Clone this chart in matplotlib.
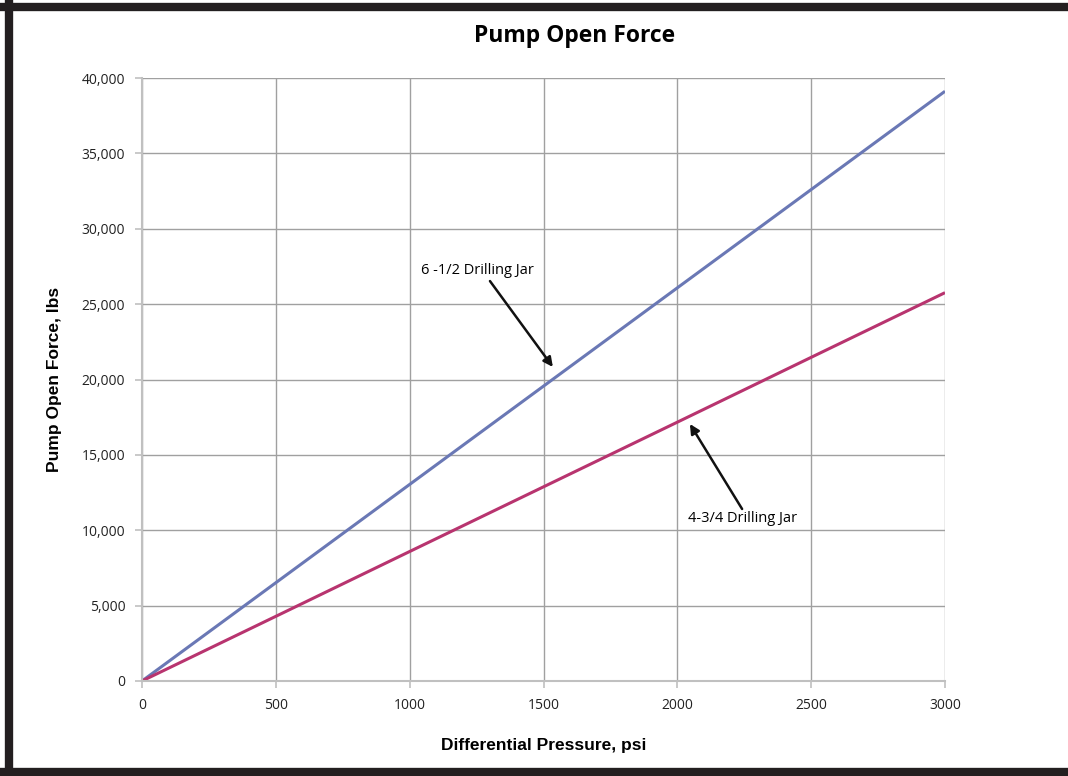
import numpy as np
import matplotlib.pyplot as plt
from matplotlib.lines import Line2D

# MARK: - Data
pressure_psi = [0, 500, 1000, 1500, 2000, 2500, 3000]
force_6_half = [0, 6520, 13040, 19560, 26080, 32600, 39120]
force_4_three_quarter = [0, 4290, 8590, 12880, 17170, 21470, 25760]

x_ticks = [0, 500, 1000, 1500, 2000, 2500, 3000]
y_ticks = [0, 5000, 10000, 15000, 20000, 25000, 30000, 35000, 40000]

# MARK: - Figure
fig = plt.figure(figsize=(10.68, 7.76), dpi=100)
ax = fig.add_axes([142 / 1068, 1 - 681 / 776, (945 - 142) / 1068, (681 - 78) / 776])

ax.plot(pressure_psi, force_6_half, color="#6a78b5", linewidth=2.2, solid_capstyle="butt")
ax.plot(pressure_psi, force_4_three_quarter, color="#b8346f", linewidth=2.2, solid_capstyle="butt")

ax.set_xlim(0, 3000)
ax.set_ylim(0, 40000)
ax.set_xticks(x_ticks)
ax.set_yticks(y_ticks)
ax.set_yticklabels([f"{v:,}" for v in y_ticks])
ax.grid(True, color="#a0a0a0", linewidth=1.0)
ax.set_axisbelow(True)
for side in ["top", "right"]:
    ax.spines[side].set_visible(False)
for side in ["left", "bottom"]:
    ax.spines[side].set_color("#c0c0c0")
    ax.spines[side].set_linewidth(1.5)
ax.tick_params(axis="both", length=5, width=1.2, color="#c0c0c0",
               labelsize=10, labelcolor="#222222", pad=7)
for lbl in ax.get_xticklabels() + ax.get_yticklabels():
    lbl.set_fontfamily("Open Sans")

ax.set_xlabel("Differential Pressure, psi", fontfamily="Liberation Sans",
              fontweight="bold", fontsize=12.5, labelpad=18)
ax.set_ylabel("Pump Open Force, lbs", fontfamily="Liberation Sans",
              fontweight="bold", fontsize=12.5, labelpad=14)

fig.text(575 / 1068, 1 - 36 / 776, "Pump Open Force", ha="center", va="center",
         fontfamily="Open Sans", fontweight="bold", fontsize=16.5)

# MARK: - Annotations
arrow_style = dict(arrowstyle="-|>", color="#111111", lw=1.8,
                   shrinkA=0, shrinkB=0, mutation_scale=14)
ax.text(1255, 27260, "6 -1/2 Drilling Jar", ha="center", va="center",
        fontfamily="Open Sans", fontsize=10.5)
ax.annotate("", xy=(1535, 20830), xytext=(1300, 26530), arrowprops=arrow_style)
ax.text(2242, 10750, "4-3/4 Drilling Jar", ha="center", va="center",
        fontfamily="Open Sans", fontsize=10.5)
ax.annotate("", xy=(2047, 17050), xytext=(2242, 11410), arrowprops=arrow_style)

# MARK: - Frame
frame_color = "#231f20"
fig.add_artist(Line2D([8.5 / 1068, 8.5 / 1068], [0, 1], color=frame_color, linewidth=6))
fig.add_artist(Line2D([0, 1], [1 - 6.5 / 776, 1 - 6.5 / 776], color=frame_color, linewidth=6))
fig.add_artist(Line2D([0, 1], [1 - 772 / 776, 1 - 772 / 776], color=frame_color, linewidth=6))

fig.savefig("out.png", dpi=100)
